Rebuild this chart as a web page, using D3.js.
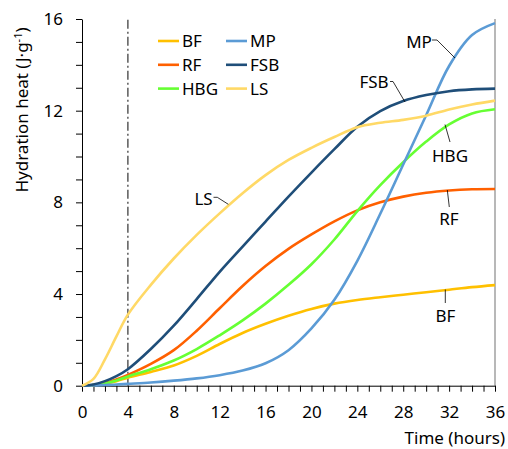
<!DOCTYPE html>
<html>
<head>
<meta charset="utf-8">
<script src="https://cdn.jsdelivr.net/npm/d3@7"></script>
<style>
  body { margin: 0; background: #fff; }
  svg text { font-family: "Noto Sans", sans-serif; fill: #000; }
</style>
</head>
<body>
<svg id="chart" width="508" height="449"></svg>
<script>
// time axis (hours)
const hours = [0, 1, 2, 3, 4, 6, 8, 10, 12, 14, 16, 18, 20, 22, 24, 26, 28, 30, 32, 34, 36]

// hydration heat (J/g)
const BF  = [0, 0.03, 0.1, 0.2, 0.35, 0.6, 0.88, 1.3, 1.82, 2.3, 2.7, 3.05, 3.35, 3.58, 3.74, 3.86, 3.97, 4.08, 4.19, 4.3, 4.39]
const RF  = [0, 0.03, 0.12, 0.27, 0.47, 0.95, 1.55, 2.4, 3.38, 4.35, 5.22, 5.97, 6.6, 7.17, 7.65, 8.0, 8.25, 8.42, 8.52, 8.57, 8.58]
const HBG = [0, 0.03, 0.1, 0.23, 0.4, 0.72, 1.1, 1.6, 2.2, 2.85, 3.58, 4.4, 5.3, 6.38, 7.62, 8.75, 9.75, 10.65, 11.4, 11.88, 12.06]
const MP  = [0, 0.01, 0.03, 0.05, 0.08, 0.14, 0.22, 0.32, 0.46, 0.66, 0.98, 1.55, 2.5, 3.75, 5.45, 7.5, 9.65, 11.8, 13.95, 15.3, 15.82]
const FSB = [0, 0.05, 0.2, 0.42, 0.72, 1.6, 2.62, 3.78, 4.97, 6.07, 7.16, 8.25, 9.3, 10.32, 11.3, 11.98, 12.42, 12.68, 12.85, 12.93, 12.96]
const LS  = [0, 0.3, 1.15, 2.15, 3.1, 4.4, 5.55, 6.58, 7.52, 8.4, 9.19, 9.85, 10.38, 10.85, 11.28, 11.47, 11.6, 11.78, 12.05, 12.27, 12.44]

const yTicks = [0, 4, 8, 12, 16]
const xTicks = [0, 4, 8, 12, 16, 20, 24, 28, 32, 36]

const series = [
  { name: "BF",  values: BF,  color: "#FFC000" },
  { name: "RF",  values: RF,  color: "#FF6000" },
  { name: "HBG", values: HBG, color: "#66FF33" },
  { name: "MP",  values: MP,  color: "#5B9BD5" },
  { name: "FSB", values: FSB, color: "#1F4E79" },
  { name: "LS",  values: LS,  color: "#FFD966" }
]

const svg = d3.select("#chart")

const x = d3.scaleLinear().domain([0, 36]).range([82, 495])
const y = d3.scaleLinear().domain([0, 16]).range([385.7, 19])

// right frame line
svg.append("line")
  .attr("x1", x(36)).attr("x2", x(36))
  .attr("y1", y(0)).attr("y2", y(16))
  .attr("stroke", "#a0a0a0").attr("stroke-width", 1.5)

// x axis
const xAxis = svg.append("g")
  .attr("transform", `translate(0,${y(0)})`)
  .call(d3.axisBottom(x)
    .tickValues(d3.range(0, 37))
    .tickSize(6)
    .tickSizeOuter(0)
    .tickFormat(d => xTicks.includes(d) ? d : ""))
xAxis.selectAll("text").attr("y", 20).style("font-size", "17px")
xAxis.select(".domain").attr("stroke", "#000")

// y axis
const yAxis = svg.append("g")
  .attr("transform", `translate(${x(0)},0)`)
  .call(d3.axisLeft(y)
    .tickValues(d3.range(0, 17))
    .tickSize(6)
    .tickSizeOuter(0)
    .tickFormat(d => yTicks.includes(d) ? d : ""))
yAxis.selectAll("text").attr("x", -19).style("font-size", "17px")

// axis titles
svg.append("text")
  .attr("x", 505).attr("y", 444)
  .attr("text-anchor", "end")
  .style("font-size", "17px")
  .text("Time (hours)")

const yTitle = svg.append("text")
  .attr("transform", "translate(28,110) rotate(-90)")
  .attr("text-anchor", "middle")
  .style("font-size", "17px")
yTitle.append("tspan").text("Hydration heat (J·g")
yTitle.append("tspan").attr("dy", -6).style("font-size", "11px").text("-1")
yTitle.append("tspan").attr("dy", 6).text(")")

// dash-dot marker at 4 h
svg.append("line")
  .attr("x1", x(4)).attr("x2", x(4))
  .attr("y1", y(0)).attr("y2", y(16))
  .attr("stroke", "#404040").attr("stroke-width", 1.3)
  .attr("stroke-dasharray", "9,3,2,3")

// curves
const line = d3.line()
  .x((d, i) => x(hours[i]))
  .y(d => y(d))
  .curve(d3.curveCatmullRom.alpha(0.5))

svg.selectAll("path.curve")
  .data(series)
  .enter()
  .append("path")
  .attr("class", "curve")
  .attr("fill", "none")
  .attr("stroke", d => d.color)
  .attr("stroke-width", 2.6)
  .attr("d", d => line(d.values))

// legend
const legendOrder = ["BF", "MP", "RF", "FSB", "HBG", "LS"]
const legend = svg.append("g").attr("transform", "translate(158,41)")
legendOrder.forEach((name, i) => {
  const s = series.find(d => d.name === name)
  const g = legend.append("g")
    .attr("transform", `translate(${(i % 2) * 68},${Math.floor(i / 2) * 23.8})`)
  g.append("line")
    .attr("x1", 0).attr("x2", 21)
    .attr("stroke", s.color).attr("stroke-width", 2.6)
  g.append("text")
    .attr("x", 24).attr("dy", "0.36em")
    .style("font-size", "17px")
    .text(name)
})

// curve labels with leader lines
const labels = [
  { name: "MP",  tx: 419, ty: 42,  pts: [[432, 40], [437, 40], [455, 58]] },
  { name: "FSB", tx: 374, ty: 82,  pts: [[390, 81.5], [393, 81.5], [405, 102]] },
  { name: "HBG", tx: 450, ty: 156, pts: [[450, 142], [445, 124.5]] },
  { name: "RF",  tx: 449, ty: 219, pts: [[449.3, 207], [447.3, 190]] },
  { name: "BF",  tx: 445.5, ty: 316, pts: [[445.3, 303], [445.3, 289.5]] },
  { name: "LS",  tx: 203.5, ty: 198.5, pts: [[213.5, 197.3], [217.3, 197.3], [228.3, 204.3]] }
]
labels.forEach(l => {
  svg.append("path")
    .attr("d", d3.line()(l.pts))
    .attr("fill", "none")
    .attr("stroke", "#000")
    .attr("stroke-width", 0.8)
  svg.append("text")
    .attr("x", l.tx).attr("y", l.ty)
    .attr("dy", "0.36em")
    .attr("text-anchor", "middle")
    .style("font-size", "17px")
    .text(l.name)
})
</script>
</body>
</html>
